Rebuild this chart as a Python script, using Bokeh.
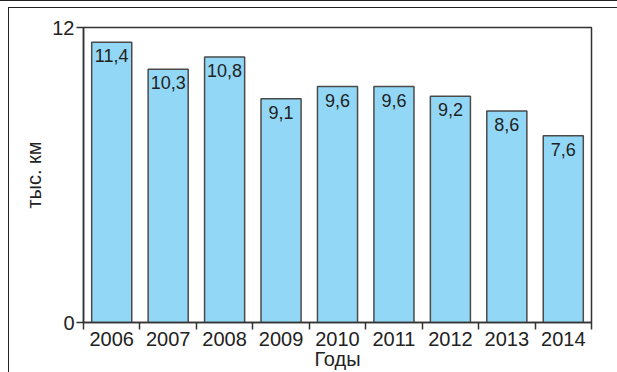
from bokeh.plotting import figure
from bokeh.models import ColumnDataSource, FixedTicker, Range1d, InlineStyleSheet
from bokeh.core.properties import value
from bokeh.embed import file_html
from bokeh.resources import INLINE

years = ["2006", "2007", "2008", "2009", "2010", "2011", "2012", "2013", "2014"]
values = [11.4, 10.3, 10.8, 9.1, 9.6, 9.6, 9.2, 8.6, 7.6]
labels = ["11,4", "10,3", "10,8", "9,1", "9,6", "9,6", "9,2", "8,6", "7,6"]
y_ticks = [0, 12]

FONT = "Liberation Sans"
TXT = "#222222"

xs = [i + 0.5 for i in range(len(years))]
src = ColumnDataSource(dict(x=xs, top=values, label=labels))

# page frame lines drawn as the element background behind a transparent border area
frame_css = InlineStyleSheet(css="""
:host {
  background:
    linear-gradient(#222, #222) 0 0 / 100% 1px no-repeat,
    linear-gradient(#222, #222) 8px 7px / 100% 1px no-repeat,
    linear-gradient(#222, #222) 8px 7px / 1px 100% no-repeat,
    #ffffff;
}
""")

p = figure(width=617, height=372, output_backend="svg", toolbar_location=None,
           x_range=Range1d(0, len(years)), y_range=Range1d(0, 12),
           min_border_left=83, min_border_right=26, min_border_top=27, min_border_bottom=48,
           stylesheets=[frame_css])

p.vbar(x="x", top="top", width=0.71, source=src, fill_color="#92d8f6",
       line_color="#4a4a4a", line_width=1.5)
p.text(x="x", y="top", text="label", source=src, text_align="center",
       text_baseline="top", y_offset=7, text_font=value(FONT),
       text_font_size="18px", text_color=TXT)

p.grid.visible = False
p.outline_line_color = "#333333"
p.outline_line_width = 1.5
p.background_fill_color = "white"
p.border_fill_color = None

xa = p.xaxis[0]
xa.ticker = FixedTicker(ticks=xs, minor_ticks=list(range(len(years) + 1)))
xa.major_label_overrides = {x: y for x, y in zip(xs, years)}
xa.major_tick_out = 0
xa.major_tick_in = 0
xa.minor_tick_out = 7
xa.minor_tick_in = 0
xa.minor_tick_line_color = "#333333"
xa.minor_tick_line_width = 1.5
xa.axis_line_color = "#333333"
xa.axis_line_width = 1.5
xa.major_label_standoff = 2
xa.major_label_text_font = FONT
xa.major_label_text_font_size = "20px"
xa.major_label_text_color = TXT
xa.axis_label = "Годы"
xa.axis_label_standoff = -1
xa.axis_label_text_font = FONT
xa.axis_label_text_font_size = "20px"
xa.axis_label_text_font_style = "normal"
xa.axis_label_text_color = TXT

ya = p.yaxis[0]
ya.ticker = FixedTicker(ticks=y_ticks, minor_ticks=[])
ya.major_tick_out = 7
ya.major_tick_in = 0
ya.major_tick_line_color = "#333333"
ya.major_tick_line_width = 1.5
ya.axis_line_color = "#333333"
ya.axis_line_width = 1.5
ya.major_label_standoff = 2
ya.major_label_text_font = FONT
ya.major_label_text_font_size = "20px"
ya.major_label_text_color = TXT
ya.axis_label = "тыс. км"
ya.axis_label_standoff = 4
ya.axis_label_text_font = FONT
ya.axis_label_text_font_size = "20px"
ya.axis_label_text_font_style = "normal"
ya.axis_label_text_color = TXT

open("out.html", "w").write(file_html(p, INLINE))
